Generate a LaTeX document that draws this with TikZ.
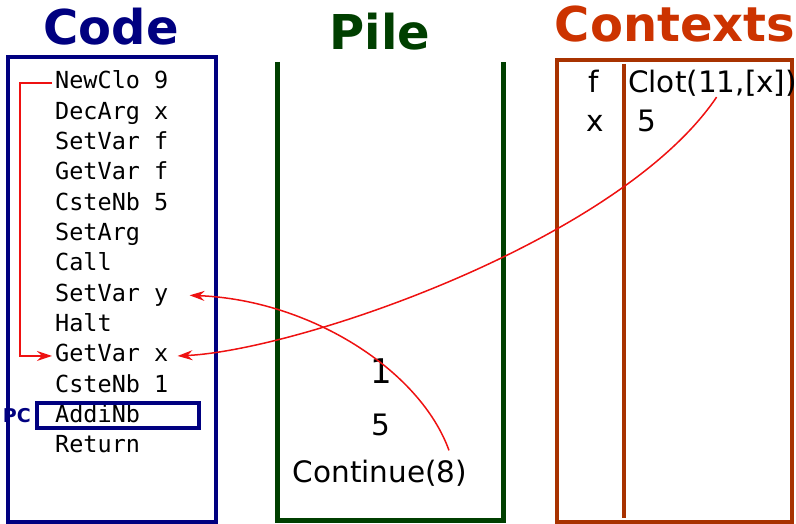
\documentclass[tikz,border=0pt]{standalone}
\usepackage{fontspec}
\setmainfont{DejaVu Sans}
\setmonofont{DejaVu Sans Mono}
\usetikzlibrary{arrows.meta}
\definecolor{CodeNavy}{HTML}{000080}
\definecolor{PileGreen}{HTML}{003F00}
\definecolor{CtxOrange}{HTML}{CC3300}
\definecolor{CtxBrown}{HTML}{A83200}
\definecolor{LinkRed}{HTML}{EE1111}

\begin{document}
\begin{tikzpicture}[
    x=1pt, y=-1pt,
    title/.style={font=\fontsize{48}{50}\selectfont\bfseries, inner sep=0pt, anchor=base},
    codeline/.style={font=\ttfamily\fontsize{23.5}{26}\selectfont, inner sep=3pt, anchor=base west, text height=17pt, text depth=5pt},
    val/.style={font=\fontsize{29.5}{31}\selectfont, inner sep=0pt, anchor=base},
    link/.style={draw=LinkRed, line width=1.5pt, -{Stealth[length=15pt, width=10pt, inset=5pt]}}
]
  \useasboundingbox (0,0) rectangle (796,524);

  % Titles
  \node[title, CodeNavy] (codetitle) at (111,45) {Code};
  \node[title, PileGreen] (piletitle) at (380,50) {Pile};
  \node[title, CtxOrange] (ctxtitle) at (675,42) {Contexts};

  % Code column
  \draw[CodeNavy, line width=4pt] (8,57) rectangle (216,522);
  \foreach \i/\instr in {1/NewClo 9, 2/DecArg x, 3/SetVar f, 4/GetVar f, 5/CsteNb 5,
      6/SetArg, 7/Call, 8/SetVar y, 9/Halt, 10/GetVar x, 11/CsteNb 1, 12/AddiNb, 13/Return}{
    \node[codeline] (c\i) at (52,{89+(\i-1)*30.33}) {\instr};
  }
  \draw[CodeNavy, line width=4pt] (37,403) rectangle (199,428);
  \node[font=\fontsize{19}{20}\selectfont\bfseries, CodeNavy, inner sep=0pt, anchor=base east] (pc) at (31,422) {PC};

  % Pile
  \draw[PileGreen, line width=5pt] (277,62) -- (277,520) -- (503,520) -- (503,62);
  \node[val, font=\fontsize{34}{36}\selectfont] (top) at (381,383) {1};
  \node[val] (five) at (381,435) {5};
  \node[val] (cont) at (380,482) {Continue(8)};

  % Contexts
  \draw[CtxBrown, line width=4pt] (557,60) rectangle (792,522);
  \draw[CtxBrown, line width=4pt] (624,64) -- (624,518);
  \node[val] (fname) at (594,93) {f};
  \node[val] (xname) at (595,132) {x};
  \node[val, anchor=base west] (clot) at (628,93) {Clot(11,[x])};
  \node[val, anchor=base west] (xval) at (637,132) {5};

  % Links
  \draw[link] (c1.west) -- (20,83) |- (c10.west);
  \draw[link] ([xshift=4pt]clot.south) .. controls (620,240) and (300,350) .. ([xshift=6pt]c10.east);
  \draw[link] ([xshift=69pt,yshift=9pt]cont.north) .. controls (420,370) and (310,300) .. ([xshift=18pt]c8.east);
\end{tikzpicture}
\end{document}
